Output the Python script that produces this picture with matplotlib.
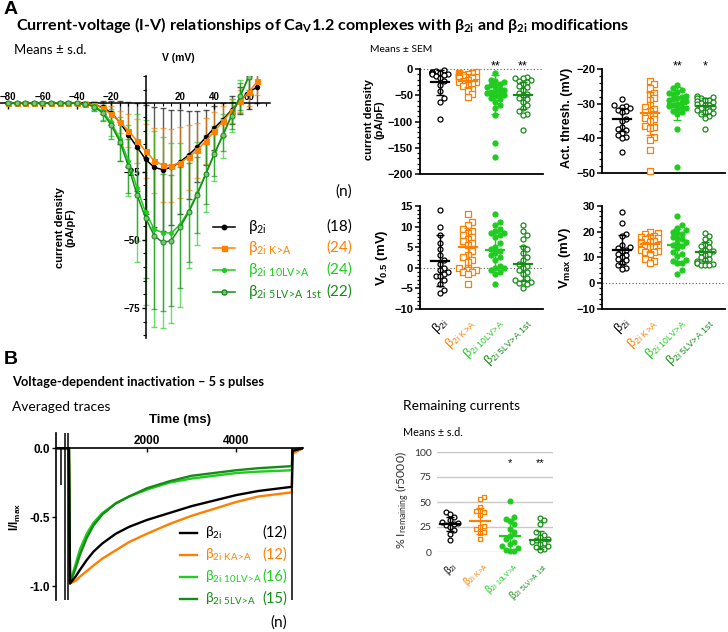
import numpy as np
import matplotlib
matplotlib.use('Agg')
import matplotlib.pyplot as plt
from matplotlib.lines import Line2D
from matplotlib.ticker import MultipleLocator

W, H = 728, 632

plt.rcParams['mathtext.default'] = 'regular'
TXT = ['Lato', 'DejaVu Sans']          # Calibri-like text
ARL = ['Liberation Sans', 'DejaVu Sans']  # GraphPad axis text

BLACK = '#000000'
ORANGE = '#FF8000'
LGREEN = '#1FCC1F'
DGREEN = '#168C16'
colors = [BLACK, ORANGE, LGREEN, DGREEN]

group_labels = [r'β$_{2i}$', r'β$_{2i\ K\!>\!A}$', r'β$_{2i\ 10LV\!>\!A}$', r'β$_{2i\ 5LV\!>\!A\ 1st}$']
iv_n = [18, 24, 24, 22]
trace_labels = [r'β$_{2i}$', r'β$_{2i\ KA\!>\!A}$', r'β$_{2i\ 10LV\!>\!A}$', r'β$_{2i\ 5LV\!>\!A}$']
trace_n = [12, 12, 16, 15]

# ---------- A: I-V curves (means +- s.d.) ----------
volts = [-80, -75, -70, -65, -60, -55, -50, -45, -40, -35, -30, -25, -20, -15, -10,
         -5, 0, 5, 10, 15, 20, 25, 30, 35, 40, 45, 50, 55, 60, 65]
iv_black = [0, 0, 0, 0, 0, 0, 0, 0, 0, -0.2, -0.6, -1.5, -3.5, -7, -11.5,
            -16, -20.5, -23.5, -24.3, -23.5, -21.5, -19, -16, -12.5, -9, -6, -2.5, 1, 4, 6]
iv_black_sd = [0.3, 0.3, 0.3, 0.3, 0.3, 0.3, 0.3, 0.3, 0.3, 0.5, 1, 2.5, 4.5, 8, 12,
               16, 20, 22, 22.5, 21, 19, 16, 13, 10, 8, 6, 5, 5, 6, 6]
iv_orange = [0, 0, 0, 0, 0, 0, 0, 0, 0, -0.2, -0.5, -1.8, -4, -6.8, -10,
             -13.8, -17.5, -21, -22.7, -22.8, -21.8, -19.8, -17.2, -13.8, -10.3, -6.6, -2.8, 0.8, 4, 8]
iv_orange_sd = [0.3, 0.3, 0.3, 0.3, 0.3, 0.3, 0.3, 0.3, 0.3, 0.5, 1, 2, 3, 4, 6,
                8, 10, 12, 13.5, 13.5, 13, 12, 10, 8.5, 7, 5.5, 4.5, 4, 5, 5]
iv_lgreen = [0, 0, 0, 0, 0, 0, 0, 0, 0, -0.3, -1, -3, -7, -13, -21,
             -31, -40, -46, -47.5, -47.5, -44.5, -39.5, -33, -25.8, -18.5, -12, -4.5, 2.5, 9.8]
iv_lgreen_sd = [0.3, 0.3, 0.3, 0.3, 0.3, 0.3, 0.3, 0.3, 0.5, 0.8, 1.5, 3, 5, 8, 13,
                27, 34, 36, 35, 33, 30, 21, 19, 14, 10, 8, 6, 6, 6]
iv_dgreen = [0, 0, 0, 0, 0, 0, 0, 0, 0, -0.3, -1.2, -3.5, -8, -14, -23,
             -33.5, -42, -48.5, -51, -50.3, -45.5, -40, -33.5, -26, -18.5, -11.5, -4.5, 2.5, 9.8]
iv_dgreen_sd = [0.3, 0.3, 0.3, 0.3, 0.3, 0.3, 0.3, 0.3, 0.5, 0.8, 1.5, 3, 5, 7, 10,
                17, 22, 27, 25, 24, 22, 18, 14, 11, 8, 6, 5, 5, 5]

# ---------- A: dot plots ----------
cd_vals = [
    [-2, -4, -5, -6, -7, -8, -8, -10, -10, -12, -14, -18, -22, -30, -42, -55, -62, -95],
    [-5, -7, -8, -9, -10, -11, -12, -13, -14, -15, -16, -17, -18, -20, -22, -24, -25, -28,
     -30, -33, -38, -42, -48, -53],
    [-8, -20, -22, -25, -28, -30, -32, -35, -38, -40, -42, -44, -46, -48, -50, -52, -55, -58,
     -62, -68, -75, -88, -140, -168],
    [-15, -17, -18, -20, -22, -25, -28, -32, -35, -40, -45, -48, -50, -55, -58, -62, -68, -75,
     -80, -85, -88, -116],
]
cd_mean = [-25, -22, -49, -50]
cd_err = [24, 12, 37, 26]

at_vals = [
    [-28.7, -30.5, -30.8, -31, -31.3, -31.8, -32.2, -32.5, -34.5, -35, -36.8, -37.2, -37.5,
     -38.5, -39, -39.5, -40, -44],
    [-23.5, -24.3, -25.5, -27, -27.5, -28.5, -29, -30.5, -31, -31.5, -32, -32.5, -33, -33.5,
     -34, -34.5, -35, -36.5, -36.8, -37, -39.5, -40.5, -43.4, -49.3],
    [-24.7, -25.5, -26, -26.5, -27, -27.3, -27.8, -28, -28.3, -28.7, -29, -29.2, -29.5, -30,
     -30.3, -30.8, -31, -31.3, -31.5, -32, -32.5, -33, -37.2, -48.3],
    [-27.7, -28, -28.3, -28.5, -28.8, -29, -29.3, -29.5, -29.8, -30, -30.3, -30.5, -31, -31.3,
     -31.7, -32, -32.3, -32.7, -33, -33.5, -34, -37.3],
]
at_mean = [-34.5, -32.8, -30, -30.8]
at_err = [3.3, 6.2, 4.8, 2.3]

v05_vals = [
    [14, 10, 8, 6, 4.5, 3, 2, 1, 0, -0.5, -1, -1.5, -2, -2, -3, -4, -5.5, -6],
    [13, 11, 10.5, 9.5, 9, 8.5, 8, 7.5, 7, 6.5, 6, 5.5, 4, 3, 2.5, 2, 1.5, 0, 0, -0.5, -1, -1,
     -1.5, -4],
    [13, 11, 10.5, 9.5, 9, 8.5, 8.5, 8, 7.5, 6, 5, 4.5, 4, 3.5, 3, 2.5, 2, 0.5, 0, 0, -0.5, -1,
     -1.5, -4],
    [10.5, 9, 8, 7, 5, 4.5, 3.5, 2.5, 2, 1, 0.5, 0, -0.5, -1, -1.5, -2.5, -3, -3.5, -3.5, -3.8,
     -4, -4.8],
]
v05_mean = [1.7, 5, 4.2, 1]
v05_err = [6.2, 4.7, 4.5, 4.2]

vmax_vals = [
    [27.5, 23.5, 19, 18.5, 15, 14, 13.5, 13, 12.5, 11.5, 11, 10, 9.5, 9, 8, 7, 6, 5.5],
    [20, 19.5, 19, 18.5, 18, 18, 17.5, 17, 16.5, 16, 16, 15.5, 15, 15, 14.5, 14, 13, 12.5, 12,
     12, 11.5, 9.5, 8.5, 8],
    [26, 22.5, 21.5, 20.5, 20, 19.5, 19, 18, 17.5, 17, 16, 15.5, 15, 14.5, 13.5, 12, 11.5,
     10.5, 9, 8.5, 8, 8, 5, 3.5],
    [19.5, 18.5, 17, 16, 15, 14.5, 14, 13, 12.5, 12, 11.5, 11, 10, 9.5, 9, 8.5, 8, 8, 7.5, 7,
     7, 7],
]
vmax_mean = [13, 15.4, 15, 12.2]
vmax_err = [5.6, 3.4, 6.2, 3.7]

# ---------- B: averaged traces ----------
pre_t = [0, 250]
pulse_t = [275, 400, 500, 650, 800, 1000, 1300, 1600, 2000, 2500, 3000, 3500, 4000, 4500, 5250]
post_t = [5265, 5500]
tr_black = [-0.98, -0.93, -0.88, -0.81, -0.75, -0.69, -0.62, -0.57, -0.52, -0.47, -0.42,
            -0.38, -0.34, -0.31, -0.28]
tr_orange = [-0.98, -0.96, -0.93, -0.89, -0.85, -0.80, -0.74, -0.68, -0.62, -0.55, -0.49,
             -0.44, -0.39, -0.35, -0.32]
tr_lgreen = [-0.97, -0.84, -0.73, -0.62, -0.54, -0.47, -0.40, -0.35, -0.30, -0.25, -0.22,
             -0.20, -0.18, -0.17, -0.16]
tr_dgreen = [-0.98, -0.87, -0.77, -0.65, -0.56, -0.48, -0.40, -0.35, -0.29, -0.24, -0.20,
             -0.18, -0.16, -0.145, -0.13]
artifact_t = [72, 162, 229, 5253]
artifact_lo = [-0.27, -1.2, -1.2, -1.2]
artifact_hi = [0, 0.2, 0.2, 0]

rem_vals = [
    [40, 38, 35, 32, 30, 29, 28, 27, 25, 22, 18, 12],
    [55, 53, 45, 41, 40, 37, 26, 25, 23, 20, 19, 13],
    [51, 35, 33, 31, 28, 23, 20, 16, 13, 10, 8, 6, 4, 2, 1, 1],
    [34, 32, 28, 20, 17, 15, 13, 12, 10, 9, 8, 6, 5, 3, 2],
]
rem_mean = [28.5, 31.5, 16.5, 12.5]
rem_err = [7, 13, 16, 9]

# marker styles per group: (marker, facecolor, edgecolor)
dot_styles = [('o', 'white', BLACK), ('s', 'white', ORANGE), ('o', LGREEN, LGREEN), ('o', 'white', DGREEN)]


fig = plt.figure(figsize=(W / 100, H / 100), dpi=100)


def fig_axes(l, t, r, b):
    return fig.add_axes([l / W, 1 - b / H, (r - l) / W, (b - t) / H])


def ftext(x, y, s, **kw):
    return fig.text(x / W, 1 - y / H, s, **kw)


def fit(t, target, along='width'):
    r = fig.canvas.get_renderer()
    ext = t.get_window_extent(r)
    size = ext.width if along == 'width' else ext.height
    t.set_fontsize(t.get_fontsize() * target / size)


def swarm(vals, dy, step=0.15, nmax=2):
    vals = np.asarray(vals, float)
    cands = [0.0]
    for k in range(1, nmax + 1):
        cands += [k * step, -k * step]
    offs = np.zeros(len(vals))
    placed = []
    for idx in np.argsort(vals):
        v = vals[idx]
        for c in cands:
            if all(abs(c - po) > step * 0.9 or abs(v - pv) > dy for po, pv in placed):
                break
        offs[idx] = c
        placed.append((c, v))
    return offs


def dot_panel(ax, groups, means, errs, ylim, dyfrac=0.05, step=0.15, ms=13):
    span = ylim[1] - ylim[0]
    for i, vals in enumerate(groups):
        m, fc, ec = dot_styles[i]
        xs = i + swarm(vals, span * dyfrac, step=step)
        ax.scatter(xs, vals, marker=m, s=ms, facecolors=fc, edgecolors=ec, linewidths=0.9,
                   clip_on=False, zorder=3)
        ax.plot([i - 0.32, i + 0.32], [means[i], means[i]], color=colors[i], lw=1.6, zorder=4)
        ax.errorbar(i, means[i], yerr=errs[i], color=colors[i], lw=1, capsize=3, capthick=1,
                    zorder=4)
    ax.set_xlim(-0.72, 3.72)
    ax.set_ylim(*ylim)


def prism_style(ax, major, minor, labels_bottom=False):
    for s in ['top', 'right']:
        ax.spines[s].set_visible(False)
    for s in ['left', 'bottom']:
        ax.spines[s].set_linewidth(1.3)
    ax.yaxis.set_major_locator(MultipleLocator(major))
    ax.yaxis.set_minor_locator(MultipleLocator(minor))
    ax.tick_params(axis='y', which='major', length=3.5, width=1.1, labelsize=8, pad=1.5)
    ax.tick_params(axis='y', which='minor', length=2, width=0.9)
    ax.tick_params(axis='x', length=0, labelbottom=labels_bottom)
    for lab in ax.get_yticklabels():
        lab.set_fontfamily(ARL)
        lab.set_fontweight('bold')


def cat_labels(ax, size=9, pad=4):
    ax.set_xticks(range(4))
    ax.set_xticklabels(group_labels, rotation=45, ha='right', rotation_mode='anchor',
                       fontsize=size, fontfamily=ARL)
    for lab, c in zip(ax.get_xticklabels(), colors):
        lab.set_color(c)
    ax.tick_params(axis='x', pad=pad)


# ---------------- headings ----------------
ftext(4, 10, 'A', fontsize=14, fontweight='bold', family=ARL, va='center')
t = ftext(16, 25, 'Current-voltage (I-V) relationships of Ca$_V$1.2 complexes with '
                  'β$_{2i}$ and β$_{2i}$ modifications',
          fontsize=11, fontweight='bold', family=TXT, va='center')
fit(t, 614)
t = ftext(14, 50, 'Means ± s.d.', fontsize=8.5, family=TXT, va='center')
fit(t, 72)
ftext(178, 58, 'V (mV)', fontsize=7.5, fontweight='bold', family=ARL, ha='center', va='center')
t = ftext(370, 49, 'Means ± SEM', fontsize=6.5, family=TXT, va='center')
fit(t, 62)

# ---------------- I-V plot ----------------
ax = fig_axes(0, 76, 270, 338)
iv_sets = [(volts, iv_black, iv_black_sd, 'o', 3.2, BLACK),
           (volts, iv_orange, iv_orange_sd, 's', 3.6, ORANGE),
           (volts[:len(iv_lgreen)], iv_lgreen, iv_lgreen_sd, 'o', 2.8, LGREEN),
           (volts[:len(iv_dgreen)], iv_dgreen, iv_dgreen_sd, 'o', 3.6, DGREEN)]
for x, y, e, m, ms, c in iv_sets:
    ax.errorbar(x, y, yerr=e, fmt='none', ecolor=c, elinewidth=1, capsize=2, capthick=1,
                alpha=0.65, zorder=2)
for x, y, e, m, ms, c in iv_sets:
    mfc = '#7BC47B' if c == DGREEN else c
    ax.plot(x, y, color=c, lw=1.1, marker=m, ms=ms, mfc=mfc, mec=c, mew=0.7, zorder=3)
ax.set_xlim(-84.7, 72.4)
ax.set_ylim(-86, 10)
ax.spines['left'].set_position(('data', 0))
ax.spines['top'].set_position(('data', 0))
ax.spines['bottom'].set_visible(False)
ax.spines['right'].set_visible(False)
ax.spines['left'].set_linewidth(1.1)
ax.spines['top'].set_linewidth(1.1)
ax.xaxis.set_ticks_position('top')
ax.set_xticks([-80, -60, -40, -20, 20, 40, 60])
ax.xaxis.set_minor_locator(MultipleLocator(5))
ax.set_yticks([-75, -50, -25])
ax.yaxis.set_minor_locator(MultipleLocator(5))
ax.tick_params(axis='x', which='major', direction='in', length=4, width=1, labelsize=7, pad=1)
ax.tick_params(axis='x', which='minor', direction='in', length=2, width=0.8)
ax.tick_params(axis='y', which='major', length=3, width=1, labelsize=7, pad=1)
ax.tick_params(axis='y', which='minor', length=2, width=0.8)
for lab in ax.get_xticklabels() + ax.get_yticklabels():
    lab.set_fontfamily(ARL)
    lab.set_fontweight('bold')
ax.patch.set_alpha(0)
ftext(65, 228, 'current density\n(pA/pF)', fontsize=8, fontweight='bold', family=ARL,
      rotation=90, ha='center', va='center', linespacing=1.1)

# I-V legend
ftext(352, 192, '(n)', fontsize=11, family=TXT, ha='right', va='center')
for i, yy in enumerate([227, 248, 270, 292]):
    m, ms = iv_sets[i][3], iv_sets[i][4]
    c = colors[i]
    mfc = '#7BC47B' if c == DGREEN else c
    fig.add_artist(Line2D([213 / W, 224 / W, 235 / W], [1 - yy / H] * 3, transform=fig.transFigure,
                          color=c, lw=1.1, marker=m, ms=ms, mfc=mfc, mec=c, markevery=[1]))
    ftext(248, yy, group_labels[i], fontsize=11, family=TXT, color=c, va='center')
    ftext(352, yy, '(%d)' % iv_n[i], fontsize=11, family=TXT, color=c, ha='right', va='center')

# ---------------- dot plots ----------------
ax_cd = fig_axes(420, 69, 543, 174)
dot_panel(ax_cd, cd_vals, cd_mean, cd_err, (-200, 0), dyfrac=0.045)
prism_style(ax_cd, 50, 10)
ax_cd.axhline(0, color='#555555', lw=0.8, ls=(0, (1, 2)), zorder=1, clip_on=False)
for i, s in [(2, '**'), (3, '**')]:
    ax_cd.text(i, 5, s, ha='center', va='center', fontsize=9, family=ARL)
ftext(374, 120, 'current density\n(pA/pF)', fontsize=8, fontweight='bold', family=ARL,
      rotation=90, ha='center', va='center', linespacing=1.1)

ax_at = fig_axes(602, 69, 725, 173)
dot_panel(ax_at, at_vals, at_mean, at_err, (-50, -20), dyfrac=0.045)
prism_style(ax_at, 10, 2)
for i, s in [(2, '**'), (3, '*')]:
    ax_at.text(i, -19.3, s, ha='center', va='center', fontsize=9, family=ARL)
ftext(567, 118, 'Act. thresh. (mV)', fontsize=9, fontweight='bold', family=ARL,
      rotation=90, ha='center', va='center')

ax_v05 = fig_axes(420, 206, 543, 309)
dot_panel(ax_v05, v05_vals, v05_mean, v05_err, (-10, 15), dyfrac=0.045)
prism_style(ax_v05, 5, 1, labels_bottom=True)
ax_v05.axhline(0, color='#555555', lw=0.8, ls=(0, (1, 2)), zorder=1)
cat_labels(ax_v05)
ftext(382, 258, 'V$_{0.5}$ (mV)', fontsize=9.5, fontweight='bold', family=ARL,
      rotation=90, ha='center', va='center')

ax_vm = fig_axes(602, 206, 725, 309)
dot_panel(ax_vm, vmax_vals, vmax_mean, vmax_err, (-10, 30), dyfrac=0.045)
prism_style(ax_vm, 10, 2, labels_bottom=True)
ax_vm.axhline(0, color='#555555', lw=0.8, ls=(0, (1, 2)), zorder=1)
cat_labels(ax_vm)
ftext(565, 258, 'V$_{max}$ (mV)', fontsize=9.5, fontweight='bold', family=ARL,
      rotation=90, ha='center', va='center')

# ---------------- B ----------------
ftext(4, 360, 'B', fontsize=14, fontweight='bold', family=ARL, va='center')
t = ftext(12, 382, 'Voltage-dependent inactivation – 5 s pulses', fontsize=11,
          fontweight='bold', family=TXT, va='center')
fit(t, 250)
t = ftext(12, 407, 'Averaged traces', fontsize=9, family=TXT, va='center')
fit(t, 98)
ftext(180, 420, 'Time (ms)', fontsize=9.5, fontweight='bold', family=ARL, ha='center', va='center')

ax_tr = fig_axes(56, 433, 303, 600)
tr_sets = [(tr_orange, ORANGE, [-0.04, 0]), (tr_lgreen, LGREEN, [-0.01, 0]),
           (tr_dgreen, DGREEN, [-0.01, 0]), (tr_black, BLACK, [-0.02, 0])]
for vals, c, tail in tr_sets:
    ax_tr.plot(pre_t + pulse_t + post_t, [0, 0] + vals + tail, color=c, lw=1.7)
ax_tr.vlines(artifact_t, artifact_lo, artifact_hi, color=BLACK, lw=1.1)
ax_tr.set_xlim(-40, 5500)
ax_tr.set_ylim(-1.1, 0.11)
ax_tr.spines['top'].set_position(('data', 0))
ax_tr.spines['bottom'].set_visible(False)
ax_tr.spines['right'].set_visible(False)
ax_tr.spines['left'].set_linewidth(1.2)
ax_tr.spines['top'].set_linewidth(1.2)
ax_tr.xaxis.set_ticks_position('top')
ax_tr.set_xticks([2000, 4000])
ax_tr.set_yticks([0, -0.5, -1.0])
ax_tr.set_yticklabels(['0.0', '-0.5', '-1.0'])
ax_tr.tick_params(axis='x', direction='in', length=3, width=1, labelsize=8.5, pad=1)
ax_tr.tick_params(axis='y', length=3, width=1, labelsize=8.5, pad=1.5)
for lab in ax_tr.get_xticklabels() + ax_tr.get_yticklabels():
    lab.set_fontfamily(ARL)
    lab.set_fontweight('bold')
ftext(15, 517, 'I/I$_{max}$', fontsize=8.5, fontweight='bold', family=ARL, rotation=90,
      ha='center', va='center')

for i, yy in enumerate([533, 555, 577, 599]):
    fig.add_artist(Line2D([180 / W, 197 / W], [1 - yy / H] * 2, transform=fig.transFigure,
                          color=colors[i], lw=1.7))
    ftext(205, yy, trace_labels[i], fontsize=10, family=TXT, color=colors[i], va='center')
    ftext(287, yy, '(%d)' % trace_n[i], fontsize=10.5, family=TXT, color=colors[i], ha='right',
          va='center')
ftext(287, 623, '(n)', fontsize=11, family=TXT, ha='right', va='center')

# remaining currents
t = ftext(403, 406, 'Remaining currents', fontsize=9, family=TXT, va='center')
fit(t, 117)
t = ftext(403, 433, 'Means ± s.d.', fontsize=7, family=TXT, va='center')
fit(t, 60)
ax_r = fig_axes(437, 452, 553, 552)
dot_panel(ax_r, rem_vals, rem_mean, rem_err, (0, 100), dyfrac=0.05, step=0.14, ms=12)
ax_r.set_xlim(-0.43, 3.43)
for s in ax_r.spines.values():
    s.set_visible(False)
ax_r.set_yticks([0, 25, 50, 75, 100])
ax_r.yaxis.grid(True, color='#c8c8c8', lw=1)
ax_r.set_axisbelow(True)
ax_r.tick_params(axis='y', length=0, labelsize=7.5, labelcolor='#333333', pad=4)
for lab in ax_r.get_yticklabels():
    lab.set_fontfamily(TXT)
ax_r.set_xticks(range(4))
ax_r.set_xticklabels(group_labels, rotation=45, ha='right', rotation_mode='anchor',
                     fontsize=7, fontfamily=ARL)
for lab, c in zip(ax_r.get_xticklabels(), colors):
    lab.set_color(c)
ax_r.tick_params(axis='x', length=0, pad=5)
for i, s in [(2, '*'), (3, '**')]:
    ax_r.text(i, 89, s, ha='center', va='center', fontsize=8, family=ARL)
t = ftext(403, 500, '% I$_{remaining}$ (r5000)', fontsize=7.5, family=TXT, color='#333333',
          rotation=90, ha='center', va='center')
fit(t, 98, along='height')

fig.savefig('out.png', dpi=100)
